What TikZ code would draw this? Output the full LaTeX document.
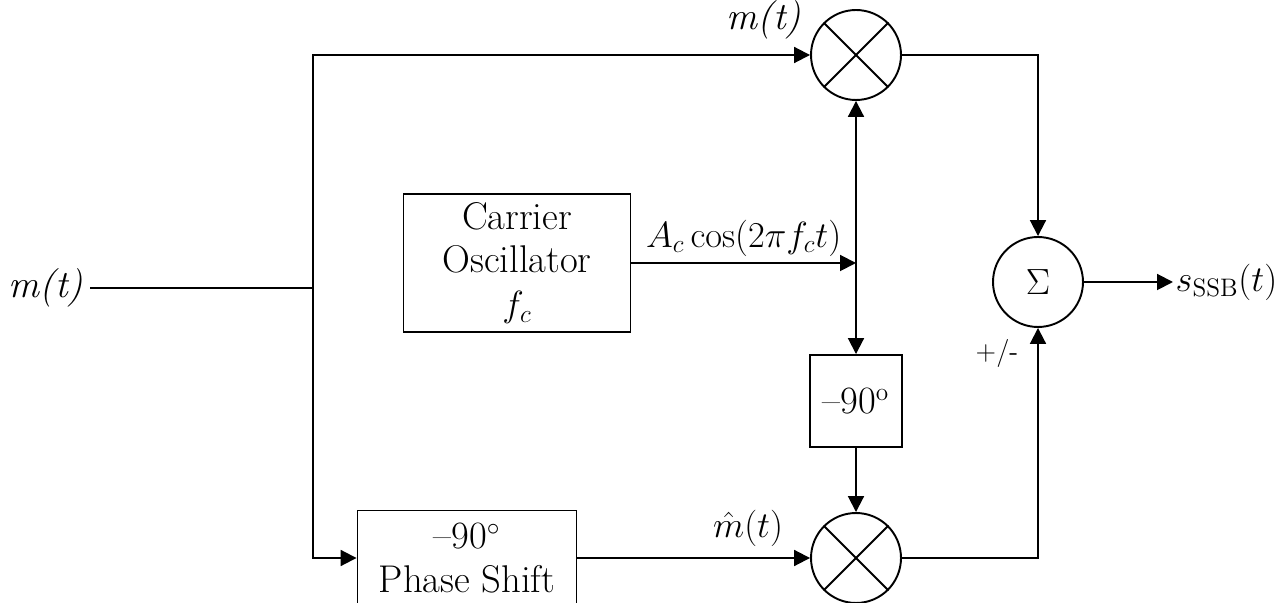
\documentclass[tikz,border=0pt]{standalone}
\usepackage{amsmath}
\usetikzlibrary{arrows.meta, positioning}

\begin{document}
\begin{tikzpicture}[
    x=0.02cm, y=0.02cm,
    font=\fontsize{22}{25}\selectfont,
    line width=1.1pt,
    >={Triangle[length=9pt, width=9pt]},
    block/.style={draw, rectangle, align=center, inner sep=0pt},
    mixer/.style={draw, circle, minimum size=1.8cm, inner sep=0pt},
    summer/.style={draw, circle, minimum size=1.8cm, inner sep=0pt},
    sign/.style={font=\fontsize{16}{18}\sffamily},
  ]
  \clip (0,0) rectangle (1275,602);

  \node (in) at (46,314) {\textit{m(t)}};
  \coordinate (split) at (313,314);

  \node[mixer] (mtop) at (856,547) {};
  \node[mixer] (mbot) at (856,44) {};
  \node[summer] (sum) at (1038,320) {$\Sigma$};
  \node[block, minimum width=4.54cm, minimum height=2.76cm] (osc) at (517,339)
    {Carrier\\Oscillator\\$f_c$};
  \node[block, minimum size=1.84cm] (shift) at (856,201) {--90$^{\mathrm{o}}$};
  \node[block, minimum width=4.38cm, minimum height=1.9cm] (hilbert) at (467,44)
    {--90$^\circ$\\Phase Shift};
  \node[anchor=west, inner sep=1pt] (out) at (1173,320) {$s_{\mathrm{SSB}}(t)$};

  % crosses in the mixers
  \foreach \m in {mtop, mbot} {
    \draw (\m.north west) -- (\m.south east);
    \draw (\m.north east) -- (\m.south west);
  }

  \coordinate (tap) at (osc.east -| mtop);

  \draw (in) -- (split);
  \draw[->] (split) |- (mtop);
  \draw[->] (split) |- (hilbert);
  \draw[->] (hilbert) -- (mbot);
  \draw[->] (osc.east) -- node[above] {$A_c\cos(2\pi f_c t)$} (tap);
  \draw[<->] (mtop) -- (shift);
  \draw[->] (shift) -- (mbot);
  \draw[->] (mtop) -| (sum);
  \draw[->] (mbot) -| (sum);
  \draw[->] (sum) -- (out);

  \node (mlabel) at (764,582) {\textit{m(t)}};
  \node[anchor=south, inner sep=0pt] (mhat) at (748,54) {$\hat{m}(t)$};
  \node[sign] (pm) at (997,249) {+/-};
\end{tikzpicture}
\end{document}
